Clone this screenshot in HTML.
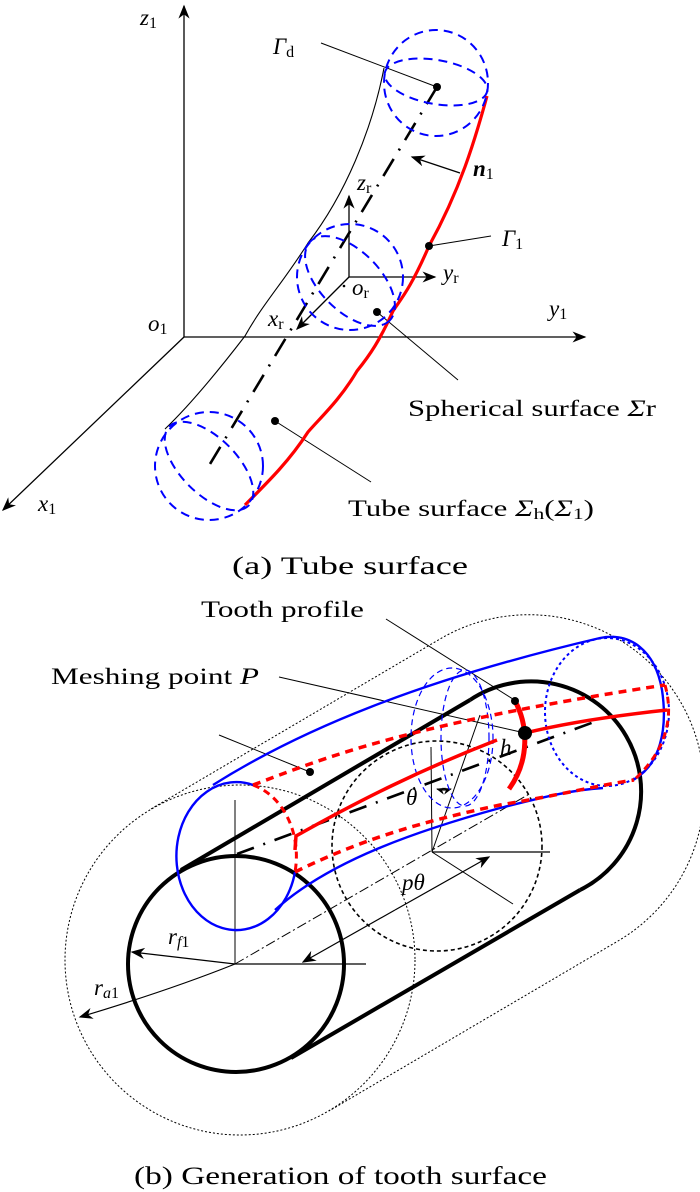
<!DOCTYPE html>
<html><head><meta charset="utf-8"><style>
html,body{margin:0;padding:0;background:#fff}
svg{display:block}
text{font-family:"Liberation Serif","Times New Roman",serif;fill:#000}
.i{font-style:italic}
</style></head><body>
<svg width="700" height="1192" viewBox="0 0 700 1192" xmlns="http://www.w3.org/2000/svg">
<defs>
<marker id="ah" viewBox="0 0 10 10" refX="9" refY="5" markerWidth="9" markerHeight="9" orient="auto-start-reverse" markerUnits="userSpaceOnUse"><path d="M0,1 L10,5 L0,9 L3,5 z" fill="#000"/></marker>
<marker id="ahb" viewBox="0 0 10 10" refX="9" refY="5" markerWidth="14" markerHeight="14" orient="auto-start-reverse" markerUnits="userSpaceOnUse"><path d="M0,1 L10,5 L0,9 L3,5 z" fill="#000"/></marker>
</defs>

<!-- ===== (a) ===== -->
<g stroke="#000" stroke-width="1.3" fill="none">
<line x1="184" y1="337" x2="184" y2="6" marker-end="url(#ahb)"/>
<line x1="184" y1="337" x2="585" y2="337" marker-end="url(#ahb)"/>
<line x1="184" y1="337" x2="3" y2="510" marker-end="url(#ahb)"/>
<path d="M384,68 C372,130 345,195 308,243 C285,280 262,305 245,336 C215,375 190,405 165,429" stroke-width="1.1"/>
<line x1="349" y1="277" x2="349" y2="196" marker-end="url(#ahb)"/>
<line x1="349" y1="277" x2="435" y2="277" marker-end="url(#ahb)"/>
<line x1="349" y1="277" x2="297" y2="329" marker-end="url(#ahb)"/>
<path d="M437,87 L210,464" stroke-width="2.6" stroke-dasharray="20,10,2,10"/>
<line x1="321" y1="43" x2="437" y2="87" stroke-width="1"/>
<line x1="460" y1="173" x2="412" y2="157" marker-end="url(#ahb)"/>
<line x1="429" y1="246" x2="491" y2="236" stroke-width="1"/>
<line x1="377" y1="312" x2="458" y2="380" stroke-width="1"/>
<line x1="275" y1="421" x2="371" y2="482" stroke-width="1"/>
</g>
<path d="M487,96 C475,140 460,190 429,246 C410,290 400,300 393,311 C380,340 370,355 357,371 C340,400 320,418 308,432 C290,460 270,480 245,505" stroke="#f00" stroke-width="3.2" fill="none"/>
<g stroke="#00f" stroke-width="2" fill="none" stroke-dasharray="9,6">
<ellipse cx="436" cy="83" rx="52" ry="53"/>
<ellipse cx="436" cy="82" rx="52" ry="22" transform="rotate(10 436 82)"/>
<ellipse cx="350" cy="277" rx="53" ry="53"/>
<ellipse cx="350" cy="281" rx="56" ry="30" transform="rotate(45 350 281)"/>
<ellipse cx="209" cy="466" rx="54" ry="54"/>
<ellipse cx="209" cy="466" rx="56" ry="28" transform="rotate(45 209 466)"/>
</g>
<g fill="#000">
<circle cx="437" cy="87" r="4"/><circle cx="429" cy="246" r="4"/><circle cx="377" cy="312" r="4"/><circle cx="275" cy="421" r="4"/>
<circle cx="344" cy="286" r="1.3"/>
</g>
<g font-size="23">
<text x="140" y="25" class="i">z<tspan font-size="16" font-style="normal" dy="3">1</tspan></text>
<text x="148" y="331" class="i">o<tspan font-size="16" font-style="normal" dy="3">1</tspan></text>
<text x="549" y="316" class="i">y<tspan font-size="16" font-style="normal" dy="3">1</tspan></text>
<text x="38" y="511" class="i">x<tspan font-size="16" font-style="normal" dy="3">1</tspan></text>
<text x="273" y="54" class="i">Γ<tspan font-size="16" font-style="normal" dy="3">d</tspan></text>
<text x="473" y="176" font-weight="bold" class="i">n<tspan font-size="16" font-style="normal" font-weight="normal" dy="3">1</tspan></text>
<text x="502" y="246" class="i">Γ<tspan font-size="16" font-style="normal" dy="3">1</tspan></text>
<text x="357" y="190" class="i">z<tspan font-size="16" font-style="normal" dy="3">r</tspan></text>
<text x="443" y="280" class="i">y<tspan font-size="16" font-style="normal" dy="3">r</tspan></text>
<text x="352" y="295" class="i">o<tspan font-size="16" font-style="normal" dy="3">r</tspan></text>
<text x="268" y="326" class="i">x<tspan font-size="16" font-style="normal" dy="3">r</tspan></text>
<text x="408" y="416" textLength="248" lengthAdjust="spacingAndGlyphs">Spherical surface <tspan class="i">Σ</tspan>r</text>
<text x="348" y="516" textLength="246" lengthAdjust="spacingAndGlyphs">Tube surface <tspan class="i">Σ</tspan><tspan font-size="16" dy="3">h</tspan><tspan dy="-3">(</tspan><tspan class="i">Σ</tspan><tspan font-size="16" dy="3">1</tspan><tspan dy="-3">)</tspan></text>
</g>
<text x="232" y="574" font-size="25" textLength="236" lengthAdjust="spacingAndGlyphs">(a) Tube surface</text>

<!-- ===== (b) ===== -->
<g stroke="#000" fill="none">
<circle cx="240" cy="960" r="175" stroke-width="1" stroke-dasharray="2,2"/>
<path d="M151,809 L440,639 A175,175 0 0 1 618,941 L329,1111" stroke-width="1" stroke-dasharray="2,2"/>
<circle cx="437" cy="846" r="105" stroke-width="1.6" stroke-dasharray="4,3"/>
<circle cx="236" cy="964" r="108" stroke-width="4"/>
<line x1="181" y1="870" x2="470" y2="700" stroke-width="4"/>
<line x1="291" y1="1058" x2="580" y2="890" stroke-width="4"/>
<path d="M470,700 A110,110 0 1 1 580,890" stroke-width="4"/>
<line x1="235" y1="800" x2="235" y2="964" stroke-width="1"/>
<line x1="235" y1="964" x2="366" y2="964" stroke-width="1.2"/>
<line x1="235" y1="964" x2="531" y2="793" stroke-width="1" stroke-dasharray="10,3,2,3"/>
<line x1="431" y1="747" x2="432" y2="852" stroke-width="1"/>
<line x1="432" y1="852" x2="550" y2="852" stroke-width="1.2"/>
<line x1="432" y1="852" x2="513" y2="904" stroke-width="1"/>
<line x1="432" y1="852" x2="480" y2="715" stroke-width="1"/>
<line x1="395" y1="910" x2="303" y2="962" stroke-width="1.2" marker-end="url(#ahb)"/>
<line x1="395" y1="910" x2="489" y2="857" stroke-width="1.2" marker-end="url(#ahb)"/>
<line x1="235" y1="964" x2="132" y2="952" stroke-width="1.2" marker-end="url(#ahb)"/>
<path d="M235,964 Q170,990 80,1017" stroke-width="1.2" marker-end="url(#ahb)"/>
<path d="M437,789 Q444,791 451,789" stroke-width="1.2" marker-start="url(#ah)" marker-end="url(#ah)"/>
<line x1="386" y1="619" x2="516" y2="701" stroke-width="1"/>
<line x1="279" y1="677" x2="525" y2="733" stroke-width="1"/>
<line x1="219" y1="735" x2="310" y2="772" stroke-width="1"/>
<path d="M237,854 L594,722" stroke-width="2.6" stroke-dasharray="18,10,2,10"/>
</g>
<g stroke="#00f" fill="none">
<path d="M295,872 A60,74 0 1 1 253,785" stroke-width="2.4"/>
<path d="M213,785 C300,730 420,680 600,638 C630,632 655,650 662,690 C668,730 660,765 633,780" stroke-width="2.4"/>
<path d="M275,910 C330,860 420,830 500,808 C540,798 570,790 603,788" stroke-width="2.4"/>
<ellipse cx="607" cy="712" rx="62" ry="74" stroke-width="2" stroke-dasharray="3,3"/>
<ellipse cx="452" cy="738" rx="41" ry="70" stroke-width="1.2" stroke-dasharray="6,4"/>
<ellipse cx="465" cy="738" rx="24" ry="68" stroke-width="1.2" stroke-dasharray="6,4"/>
</g>
<g stroke="#f00" fill="none">
<path d="M253,785 A60,74 0 0 1 295,872" stroke-width="3" stroke-dasharray="7,5"/>
<path d="M253,785 C320,760 400,725 665,685" stroke-width="3.5" stroke-dasharray="8,6"/>
<path d="M295,872 C360,840 420,822 500,805 C560,795 600,785 634,780" stroke-width="3.5" stroke-dasharray="8,6"/>
<path d="M665,685 C672,710 672,745 634,780" stroke-width="3" stroke-dasharray="7,5"/>
<path d="M295,850 L296,836 C360,800 420,770 497,740" stroke-width="3.5"/>
<path d="M525,733 C570,722 620,715 667,710" stroke-width="3.5"/>
<path d="M515,701 C528,725 530,760 509,789" stroke-width="5"/>
</g>
<g fill="#000">
<circle cx="525" cy="733" r="7"/><circle cx="515" cy="701" r="4"/><circle cx="310" cy="772" r="4"/>
</g>
<g font-size="23">
<text x="201" y="617" textLength="163" lengthAdjust="spacingAndGlyphs">Tooth profile</text>
<text x="51" y="684" textLength="208" lengthAdjust="spacingAndGlyphs">Meshing point <tspan class="i">P</tspan></text>
<text x="500" y="755" class="i">h</text>
<text x="406" y="805" class="i">θ</text>
<text x="402" y="890" class="i">pθ</text>
<text x="168" y="944" class="i">r<tspan font-size="16" dy="3">f</tspan><tspan font-size="16" font-style="normal">1</tspan></text>
<text x="94" y="995" class="i">r<tspan font-size="16" dy="3">a</tspan><tspan font-size="16" font-style="normal">1</tspan></text>
</g>
<text x="134" y="1184" font-size="25" textLength="413" lengthAdjust="spacingAndGlyphs">(b) Generation of tooth surface</text>
</svg>
</body></html>
